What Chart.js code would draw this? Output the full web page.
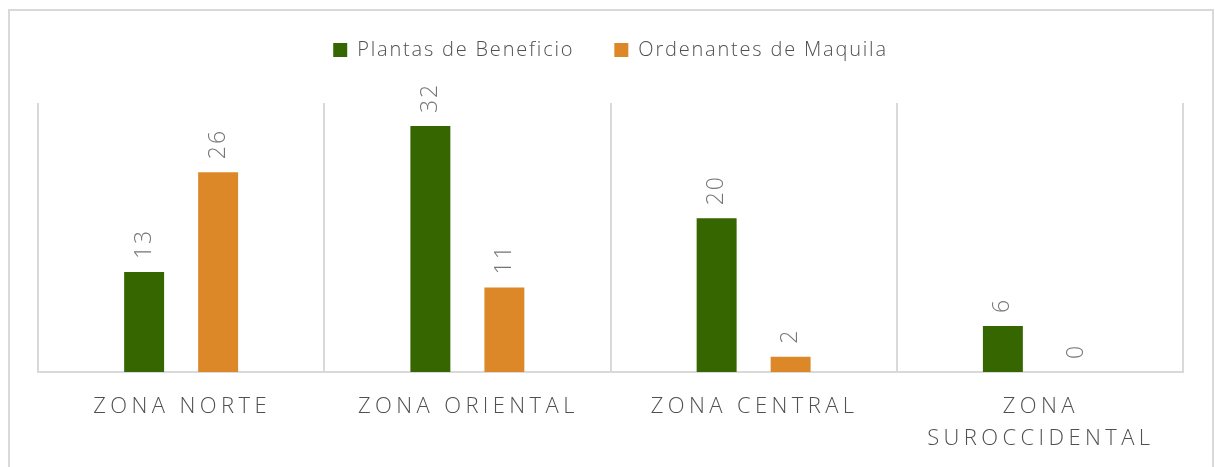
<!DOCTYPE html>
<html><head><meta charset="utf-8">
<script src="https://cdn.jsdelivr.net/npm/chart.js@4.4.1/dist/chart.umd.min.js"></script>
<style>
html,body{margin:0;padding:0;background:#fff;}
#wrap{position:relative;width:1215px;height:467px;overflow:hidden;}
#frame{position:absolute;left:8px;top:9px;width:1206px;height:480px;border:2px solid #d9d9d9;box-sizing:border-box;}
canvas{position:absolute;left:0;top:0;}
</style></head>
<body><div id="wrap"><div id="frame"></div><canvas id="c" width="1215" height="467"></canvas></div>
<script>
const categories = ['ZONA NORTE', 'ZONA ORIENTAL', 'ZONA CENTRAL', ['ZONA', 'SUROCCIDENTAL']];
const seriesNames = ['Plantas de Beneficio', 'Ordenantes de Maquila'];
const plantasBeneficio = [13, 32, 20, 6];
const ordenantesMaquila = [26, 11, 2, 0];
const yMax = 35;

const FONT = '"Open Sans", "Noto Sans", sans-serif';

const labelPlugin = {
  id: 'customLabels',
  beforeLayout(chart) { chart.ctx.letterSpacing = '1.8px'; },
  beforeDraw(chart) { chart.ctx.letterSpacing = '1.8px'; },
  afterDatasetsDraw(chart) {
    const ctx = chart.ctx;
    ctx.save();
    ctx.font = '300 23px ' + FONT;
    ctx.fillStyle = '#767676';
    ctx.letterSpacing = '2px';
    ctx.textAlign = 'left';
    ctx.textBaseline = 'middle';
    chart.data.datasets.forEach((ds, di) => {
      const meta = chart.getDatasetMeta(di);
      meta.data.forEach((bar, i) => {
        ctx.save();
        ctx.translate(bar.x, bar.y - 13);
        ctx.rotate(-Math.PI / 2);
        ctx.fillText(String(ds.data[i]), 0, 0);
        ctx.restore();
      });
    });
    const xs = chart.scales.x;
    const base = chart.chartArea.bottom;
    ctx.font = '300 22px ' + FONT;
    ctx.fillStyle = '#505050';
    ctx.letterSpacing = '4.4px';
    ctx.textAlign = 'center';
    ctx.textBaseline = 'middle';
    chart.data.labels.forEach((lab, i) => {
      const lines = Array.isArray(lab) ? lab : [lab];
      const x = xs.getPixelForValue(i) + 1;
      lines.forEach((t, j) => ctx.fillText(t, x, base + 35 + j * 32));
    });
    ctx.restore();
  }
};

new Chart(document.getElementById('c'), {
  type: 'bar',
  data: {
    labels: categories,
    datasets: [
      { label: seriesNames[0], data: plantasBeneficio, backgroundColor: '#356600', borderWidth: 0,
        categoryPercentage: 0.517, barPercentage: 0.54 },
      { label: seriesNames[1], data: ordenantesMaquila, backgroundColor: '#DC8829', borderWidth: 0,
        categoryPercentage: 0.517, barPercentage: 0.54 }
    ]
  },
  options: {
    responsive: false,
    animation: false,
    devicePixelRatio: 1,
    layout: { padding: { left: 38, right: 32, top: 0, bottom: 0 } },
    plugins: {
      legend: {
        position: 'top',
        labels: { font: { family: FONT, size: 20, weight: '300' }, color: '#505050', boxWidth: 14, boxHeight: 14, padding: 40 }
      },
      tooltip: { enabled: false }
    },
    scales: {
      x: {
        grid: { color: '#d9d9d9', lineWidth: 2, drawTicks: false, offset: true },
        border: { display: true, color: '#d9d9d9', width: 2 },
        ticks: { display: false },
        afterFit(s) { s.height = 95; }
      },
      xTop: {
        type: 'category', position: 'top', display: true,
        grid: { display: false, drawTicks: false },
        border: { display: false },
        ticks: { display: false },
        afterFit(s) { s.height = 33; }
      },
      y: { display: false, min: 0, max: yMax }
    }
  },
  plugins: [labelPlugin]
});
</script>
</body></html>
